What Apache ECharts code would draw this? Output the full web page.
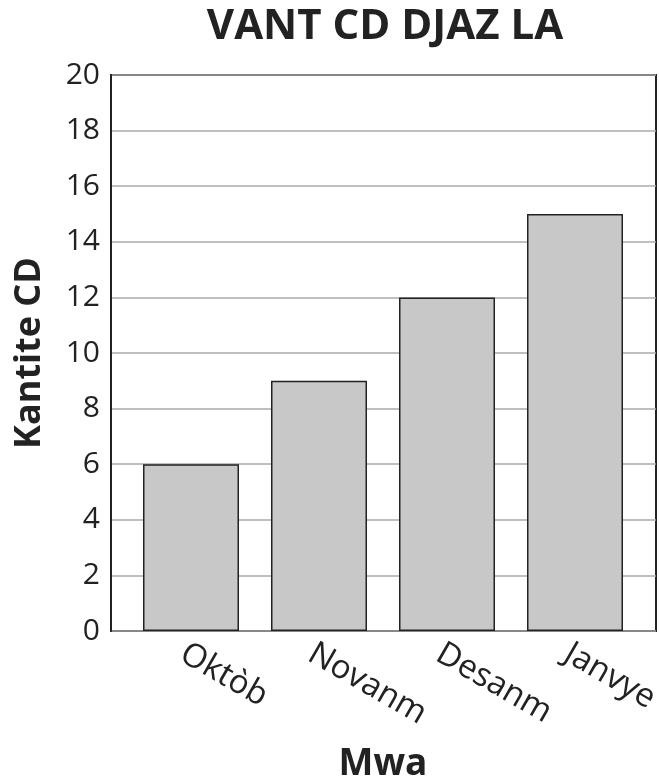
<!DOCTYPE html>
<html><head><meta charset="utf-8">
<script src="https://cdn.jsdelivr.net/npm/echarts@6/dist/echarts.min.js"></script>
<style>html,body{margin:0;padding:0;background:#fff}#c{width:659px;height:778px}</style>
</head><body><div id="c"></div>
<script>
const categories = ['Oktòb', 'Novanm', 'Desanm', 'Janvye'];
const values = [6, 9, 12, 15];
const titleText = 'VANT CD DJAZ LA';
const yName = 'Kantite CD';
const xName = 'Mwa';
const F = '"Open Sans", "Noto Sans", sans-serif';
const chart = echarts.init(document.getElementById('c'));
chart.setOption({
  animation: false,
  title: { text: titleText, left: 380, top: 1, textAlign: 'center',
    textStyle: { fontFamily: F, fontWeight: 'bold', fontSize: 42, color: '#222' } },
  grid: [
    { left: 111, right: 3, top: 75, bottom: 147, show: true, borderColor: '#222', borderWidth: 2,
      backgroundColor: 'transparent', outerBoundsMode: 'none', containLabel: false },
    { left: 127, right: 20, top: 75, bottom: 147, outerBoundsMode: 'none', containLabel: false }
  ],
  xAxis: [
    { gridIndex: 0, type: 'value', min: 0, max: 1, show: false },
    { gridIndex: 1, type: 'category', data: categories,
      name: xName, nameLocation: 'middle', nameGap: 115,
      nameTextStyle: { fontFamily: F, fontWeight: 'bold', fontSize: 37, color: '#222' },
      axisLine: { show: false },
      axisTick: { show: false },
      axisLabel: { rotate: -30, fontFamily: F, fontSize: 33, color: '#222', margin: 6,
        align: 'left', verticalAlign: 'top', interval: 0 } }
  ],
  yAxis: [
    { gridIndex: 0, type: 'value', min: 0, max: 20, interval: 2,
      name: yName, nameLocation: 'middle', nameGap: 63,
      nameTextStyle: { fontFamily: F, fontWeight: 'bold', fontSize: 36, color: '#222' },
      axisLine: { show: true, lineStyle: { color: '#222', width: 2 } },
      axisTick: { show: false },
      axisLabel: { fontFamily: F, fontSize: 30, color: '#222', margin: 11 },
      splitLine: { lineStyle: { color: '#aaa', width: 1.5 } } },
    { gridIndex: 1, type: 'value', min: 0, max: 20, interval: 2, show: false, splitLine: { show: false } }
  ],
  series: [{ type: 'bar', xAxisIndex: 1, yAxisIndex: 1, data: values, barCategoryGap: '25%',
    itemStyle: { color: '#c8c8c8', borderColor: '#222', borderWidth: 1.5 } }]
});
</script></body></html>
